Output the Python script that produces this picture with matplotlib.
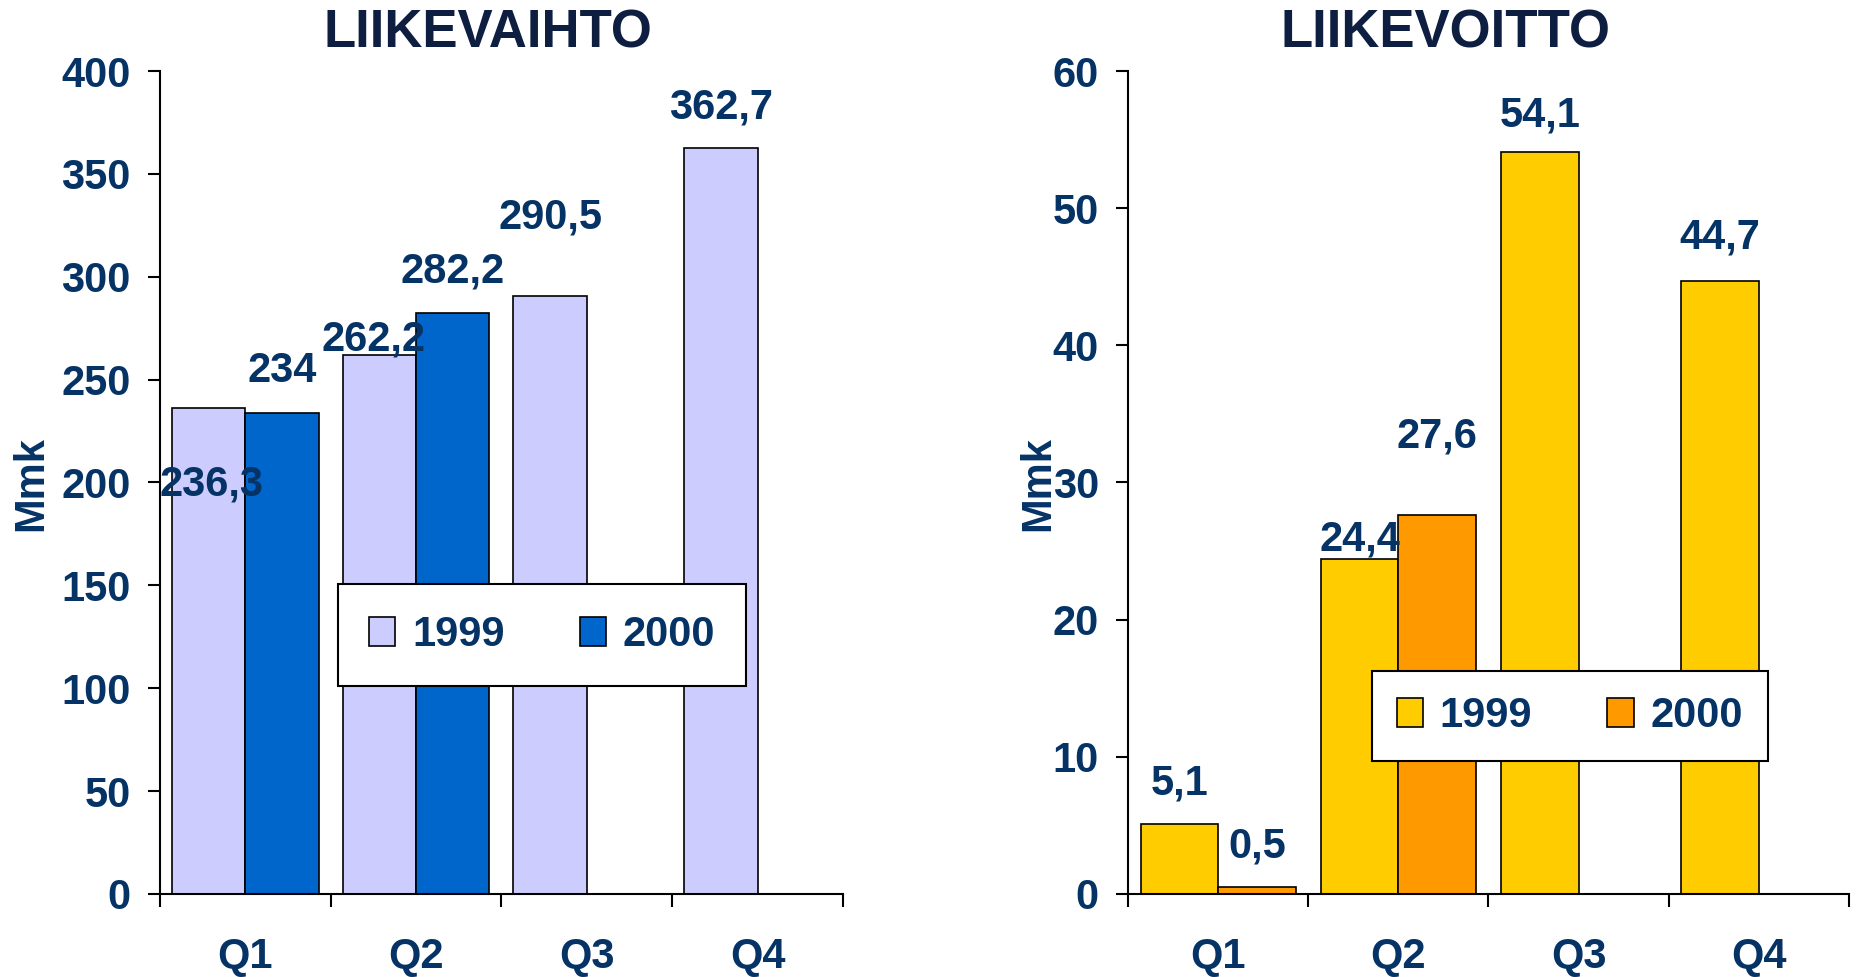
import numpy as np
import matplotlib
matplotlib.use('Agg')
import matplotlib.pyplot as plt

# Daten
quarters = ['Q1', 'Q2', 'Q3', 'Q4']
years = ['1999', '2000']
rev_1999 = [236.3, 262.2, 290.5, 362.7]
rev_2000 = [234, 282.2, np.nan, np.nan]
ebit_1999 = [5.1, 24.4, 54.1, 44.7]
ebit_2000 = [0.5, 27.6, np.nan, np.nan]

# Label-Verschiebungen (Punkte) wie im Original
rev_off_1999 = [(2, -55), (-4, 11), (0, 57), (0, 29)]
rev_off_2000 = [(0, 30), (0, 30), None, None]
ebit_off_1999 = [(0, 29), (0, 14.5), (0, 26.5), (0, 31)]
ebit_off_2000 = [(0, 29), (0, 57), None, None]

navy = '#063366'
dark = '#0d1e40'
plt.rcParams['font.family'] = ['Liberation Sans', 'DejaVu Sans']
plt.rcParams['font.weight'] = 'bold'

fig = plt.figure(figsize=(18.62, 9.77), dpi=100)
ax1 = fig.add_axes([0.0859, 0.085, 0.3668, 0.8423])
ax2 = fig.add_axes([0.6058, 0.085, 0.3872, 0.8423])


def fmt(v):
    return ('%g' % v).replace('.', ',')


def draw(ax, s1, s2, off1, off2, colors, ymax, ystep, title, tx, leg_pos, bpad):
    x = np.arange(len(quarters))
    w = 0.43
    b1 = ax.bar(x - w / 2, s1, w, color=colors[0], edgecolor='black', linewidth=1.2, label=years[0], zorder=2)
    b2 = ax.bar(x + w / 2, s2, w, color=colors[1], edgecolor='black', linewidth=1.2, label=years[1], zorder=2)
    for xs, vals, offs in ((x - w / 2, s1, off1), (x + w / 2, s2, off2)):
        for xi, v, o in zip(xs, vals, offs):
            if np.isnan(v):
                continue
            ax.annotate(fmt(v), (xi, v), xytext=o, textcoords='offset points',
                        ha='center', va='center', fontsize=30, color=navy,
                        fontweight='bold', zorder=3)
    ax.set_xlim(-0.5, len(quarters) - 0.5)
    ax.set_ylim(0, ymax)
    ax.set_yticks(np.arange(0, ymax + 1, ystep))
    ax.set_xticks(np.arange(-0.5, len(quarters), 1.0))
    ax.set_xticklabels([])
    ax.set_xticks(x, minor=True)
    ax.set_xticklabels(quarters, minor=True)
    ax.tick_params(axis='x', which='major', direction='out', length=9, width=1.5)
    ax.tick_params(axis='x', which='minor', length=0, pad=31, labelsize=30, labelcolor=navy)
    ax.tick_params(axis='y', direction='out', length=9, width=1.5, pad=12, labelsize=30, labelcolor=navy)
    for lab in ax.get_xticklabels(minor=True) + ax.get_yticklabels():
        lab.set_fontweight('bold')
    for s in ('top', 'right'):
        ax.spines[s].set_visible(False)
    for s in ('left', 'bottom'):
        ax.spines[s].set_linewidth(1.5)
    ax.patch.set_alpha(0)
    ax.text(tx, 1.046, title, transform=ax.transAxes, ha='center', va='center',
            fontsize=38, fontweight='bold', color=dark)
    leg = fig.legend(handles=[b1, b2], loc='upper left', bbox_to_anchor=leg_pos, ncol=2,
                     fontsize=30, frameon=True, fancybox=False, borderpad=bpad,
                     handlelength=0.63, handleheight=0.67, handletextpad=0.4,
                     columnspacing=1.8, borderaxespad=0)
    leg.get_frame().set_edgecolor('black')
    leg.get_frame().set_linewidth(1.5)
    leg.get_frame().set_alpha(1)
    for t in leg.get_texts():
        t.set_color(navy)
        t.set_fontweight('bold')
    return leg


draw(ax1, rev_1999, rev_2000, rev_off_1999, rev_off_2000, ['#ccccff', '#0066cc'],
     400, 50, 'LIIKEVAIHTO', 0.48, (0.1815, 0.4023), 0.75)
draw(ax2, ebit_1999, ebit_2000, ebit_off_1999, ebit_off_2000, ['#ffcc00', '#ff9900'],
     60, 10, 'LIIKEVOITTO', 0.441, (0.7368, 0.3132), 0.6)

# Achsenbeschriftung
fig.text(31 / 1862, 1 - 484 / 977, 'Mmk', rotation=90, ha='center', va='center',
         fontsize=30, fontweight='bold', color=navy)
fig.text(1038 / 1862, 1 - 484 / 977, 'Mmk', rotation=90, ha='center', va='center',
         fontsize=30, fontweight='bold', color=navy)

fig.savefig('out.png', dpi=100)
